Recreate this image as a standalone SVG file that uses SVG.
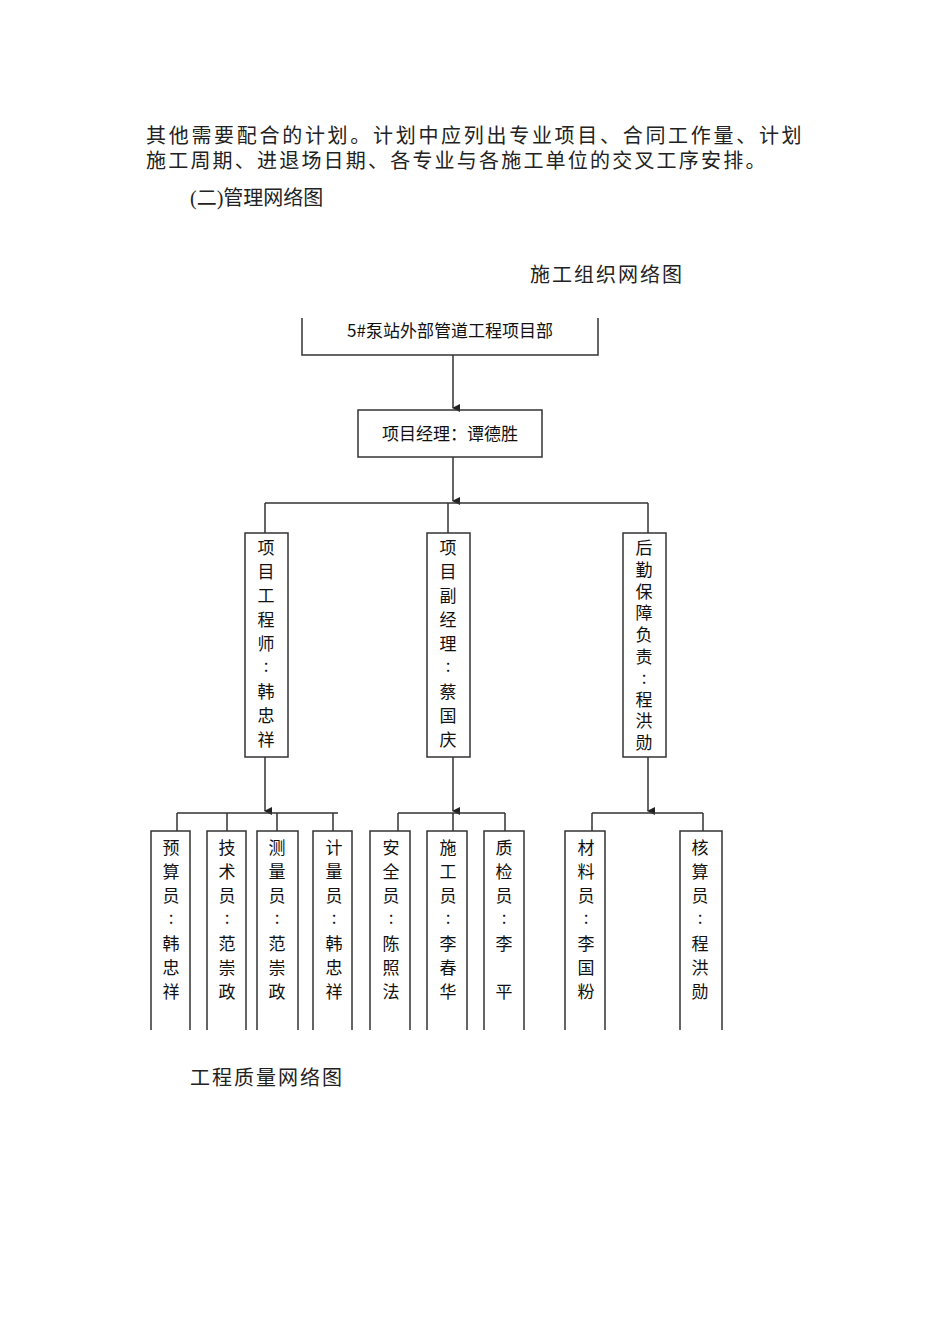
<svg xmlns="http://www.w3.org/2000/svg" width="950" height="1344" viewBox="0 0 950 1344">
<style>
.p{font-family:"Liberation Serif","Noto Sans CJK SC",serif;font-size:20px;fill:#222}
.b{fill:none;stroke:#333;stroke-width:1.5}
.t{font-family:"Noto Sans CJK SC",sans-serif;font-size:17px;fill:#111;text-anchor:middle}
.c{stroke:#333;stroke-width:1.5;fill:none}
</style>
<defs><marker id="a" markerWidth="8" markerHeight="8" refX="4" refY="7" orient="auto" markerUnits="userSpaceOnUse"><path d="M0,0L8,0L4,8Z" fill="#222"/></marker></defs>
<rect width="950" height="1344" fill="#fff"/>
<text class="p" x="146" y="143" letter-spacing="2.7">其他需要配合的计划。计划中应列出专业项目、合同工作量、计划</text>
<text class="p" x="146" y="168" letter-spacing="2.2">施工周期、进退场日期、各专业与各施工单位的交叉工序安排。</text>
<text class="p" x="190" y="205">(二)管理网络图</text>
<text class="p" x="530" y="282" letter-spacing="2">施工组织网络图</text>
<text class="p" x="190" y="1085" letter-spacing="2">工程质量网络图</text>
<g id="connectors">
<path class="c" d="M453,355V408" marker-end="url(#a)"/>
<path class="c" d="M453,457V501" marker-end="url(#a)"/>
<path class="c" d="M265,503H648M265,503V533M448,503V533M648,503V533"/>
<path class="c" d="M265,757V811" marker-end="url(#a)"/>
<path class="c" d="M177,813H338M177,813V831M227,813V831M277,813V831M333,813V831"/>
<path class="c" d="M453,757V811" marker-end="url(#a)"/>
<path class="c" d="M398,813H505M398,813V831M453,813V831M505,813V831"/>
<path class="c" d="M648,757V811" marker-end="url(#a)"/>
<path class="c" d="M592,813H703M592,813V831M703,813V831"/>
</g>
<g id="n0"><path class="b" d="M302,318V355H598V318"/><text class="t" x="450" y="337" font-size="16">5#泵站外部管道工程项目部</text></g>
<g id="n1"><rect class="b" x="358" y="410" width="184" height="47"/><text class="t" x="450" y="440">项目经理：谭德胜</text></g>
<g id="n2"><rect class="b" x="245" y="533" width="43" height="224"/>
<text class="t"><tspan x="266" y="554">项</tspan><tspan x="266" y="578">目</tspan><tspan x="266" y="602">工</tspan><tspan x="266" y="626">程</tspan><tspan x="266" y="650">师</tspan><tspan x="266" y="672">:</tspan><tspan x="266" y="698">韩</tspan><tspan x="266" y="722">忠</tspan><tspan x="266" y="746">祥</tspan></text></g>
<g id="n3"><rect class="b" x="427" y="533" width="43" height="224"/>
<text class="t"><tspan x="448" y="554">项</tspan><tspan x="448" y="578">目</tspan><tspan x="448" y="602">副</tspan><tspan x="448" y="626">经</tspan><tspan x="448" y="650">理</tspan><tspan x="448" y="672">:</tspan><tspan x="448" y="698">蔡</tspan><tspan x="448" y="722">国</tspan><tspan x="448" y="746">庆</tspan></text></g>
<g id="n4"><rect class="b" x="623" y="533" width="43" height="224"/>
<text class="t" font-size="16"><tspan x="644" y="554">后</tspan><tspan x="644" y="576">勤</tspan><tspan x="644" y="598">保</tspan><tspan x="644" y="619">障</tspan><tspan x="644" y="641">负</tspan><tspan x="644" y="663">责</tspan><tspan x="644" y="684">:</tspan><tspan x="644" y="706">程</tspan><tspan x="644" y="727">洪</tspan><tspan x="644" y="749">勋</tspan></text></g>
<g id="bottom">
<g id="b1"><path class="b" d="M151,1030V831H190V1030"/><text class="t"><tspan x="171" y="854">预</tspan><tspan x="171" y="878">算</tspan><tspan x="171" y="902">员</tspan><tspan x="171" y="924">:</tspan><tspan x="171" y="950">韩</tspan><tspan x="171" y="974">忠</tspan><tspan x="171" y="998">祥</tspan></text></g>
<g id="b2"><path class="b" d="M207,1030V831H246V1030"/><text class="t"><tspan x="227" y="854">技</tspan><tspan x="227" y="878">术</tspan><tspan x="227" y="902">员</tspan><tspan x="227" y="924">:</tspan><tspan x="227" y="950">范</tspan><tspan x="227" y="974">崇</tspan><tspan x="227" y="998">政</tspan></text></g>
<g id="b3"><path class="b" d="M257,1030V831H298V1030"/><text class="t"><tspan x="277" y="854">测</tspan><tspan x="277" y="878">量</tspan><tspan x="277" y="902">员</tspan><tspan x="277" y="924">:</tspan><tspan x="277" y="950">范</tspan><tspan x="277" y="974">崇</tspan><tspan x="277" y="998">政</tspan></text></g>
<g id="b4"><path class="b" d="M313,1030V831H352V1030"/><text class="t"><tspan x="334" y="854">计</tspan><tspan x="334" y="878">量</tspan><tspan x="334" y="902">员</tspan><tspan x="334" y="924">:</tspan><tspan x="334" y="950">韩</tspan><tspan x="334" y="974">忠</tspan><tspan x="334" y="998">祥</tspan></text></g>
<g id="b5"><path class="b" d="M370,1030V831H410V1030"/><text class="t"><tspan x="391" y="854">安</tspan><tspan x="391" y="878">全</tspan><tspan x="391" y="902">员</tspan><tspan x="391" y="924">:</tspan><tspan x="391" y="950">陈</tspan><tspan x="391" y="974">照</tspan><tspan x="391" y="998">法</tspan></text></g>
<g id="b6"><path class="b" d="M427,1030V831H467V1030"/><text class="t"><tspan x="448" y="854">施</tspan><tspan x="448" y="878">工</tspan><tspan x="448" y="902">员</tspan><tspan x="448" y="924">:</tspan><tspan x="448" y="950">李</tspan><tspan x="448" y="974">春</tspan><tspan x="448" y="998">华</tspan></text></g>
<g id="b7"><path class="b" d="M484,1030V831H524V1030"/><text class="t"><tspan x="504" y="854">质</tspan><tspan x="504" y="878">检</tspan><tspan x="504" y="902">员</tspan><tspan x="504" y="924">:</tspan><tspan x="504" y="950">李</tspan><tspan x="504" y="998">平</tspan></text></g>
<g id="b8"><path class="b" d="M565,1030V831H605V1030"/><text class="t"><tspan x="586" y="854">材</tspan><tspan x="586" y="878">料</tspan><tspan x="586" y="902">员</tspan><tspan x="586" y="924">:</tspan><tspan x="586" y="950">李</tspan><tspan x="586" y="974">国</tspan><tspan x="586" y="998">粉</tspan></text></g>
<g id="b9"><path class="b" d="M680,1030V831H722V1030"/><text class="t"><tspan x="700" y="854">核</tspan><tspan x="700" y="878">算</tspan><tspan x="700" y="902">员</tspan><tspan x="700" y="924">:</tspan><tspan x="700" y="950">程</tspan><tspan x="700" y="974">洪</tspan><tspan x="700" y="998">勋</tspan></text></g>
</g>
</svg>
